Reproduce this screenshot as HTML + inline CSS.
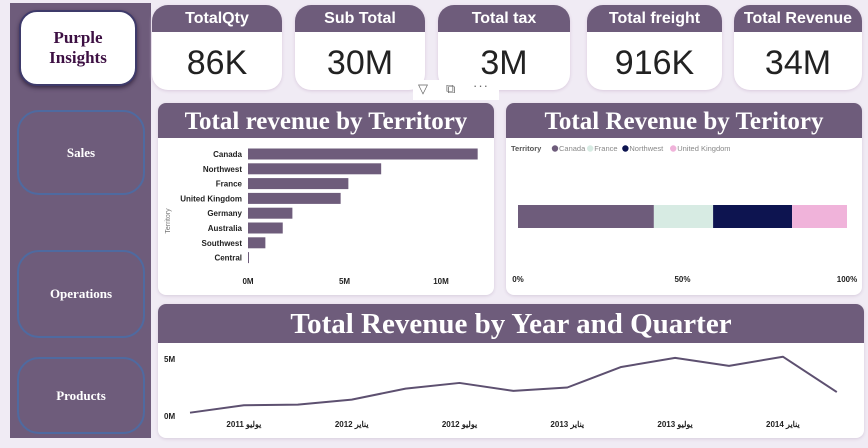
<!DOCTYPE html>
<html><head><meta charset="utf-8"><style>
body{margin:0;width:868px;height:448px;background:#f0ebf4;position:relative;overflow:hidden;font-family:"Liberation Sans",sans-serif}
.abs{position:absolute}
.side{left:10px;top:3px;width:141px;height:435px;background:#6e5c7b}
.nav{position:absolute;left:17px;width:128px;border:2px solid #4f6aa0;border-radius:22px;color:#fff;font-family:"Liberation Serif",serif;font-weight:bold;font-size:13px;display:flex;align-items:center;justify-content:center;box-sizing:border-box;background:#6e5c7b}
.logo{position:absolute;left:19px;top:10px;width:118px;height:76px;background:#fff;border-radius:18px;border:2px solid #3e3a6a;box-sizing:border-box;box-shadow:0 2px 4px #3a2a45;display:flex;align-items:center;justify-content:center;text-align:center;color:#3d1043;font-family:"Liberation Serif",serif;font-weight:bold;font-size:17px;line-height:20px}
.kpi{position:absolute;top:5px;height:85px;background:#fff;border-radius:16px;overflow:hidden;box-shadow:0 1px 3px #d9c9dd}
.kpi .h{height:27px;background:#6e5c7b;color:#fff;font-weight:bold;font-size:16px;text-align:center;line-height:28px}
.kpi .v{text-align:center;font-size:34px;line-height:62px;color:#222}
.panel{position:absolute;background:#fff;border-radius:8px;overflow:hidden;box-shadow:0 1px 3px #d6cbdc}
.ph{background:#6e5c7b;color:#fff;font-family:"Liberation Serif",serif;font-weight:bold;text-align:center}
</style></head><body>
<div class="abs side"></div>
<div class="logo">Purple<br>Insights</div>
<div class="nav" style="top:110px;height:85px">Sales</div>
<div class="nav" style="top:250px;height:88px">Operations</div>
<div class="nav" style="top:357px;height:77px">Products</div>

<div class="kpi" style="left:152px;width:130px"><div class="h">TotalQty</div><div class="v">86K</div></div>
<div class="kpi" style="left:295px;width:130px"><div class="h">Sub Total</div><div class="v">30M</div></div>
<div class="kpi" style="left:438px;width:132px"><div class="h">Total tax</div><div class="v">3M</div></div>
<div class="kpi" style="left:587px;width:135px"><div class="h">Total freight</div><div class="v">916K</div></div>
<div class="kpi" style="left:734px;width:128px"><div class="h">Total Revenue</div><div class="v">34M</div></div>

<div class="abs" style="left:413px;top:80px;width:86px;height:20px;background:#fff;font-size:13px;color:#666">
<span class="abs" style="left:5px;top:1px">▽</span>
<span class="abs" style="left:33px;top:1px">⧉</span>
<span class="abs" style="left:60px;top:-2px;letter-spacing:1px">···</span>
</div>

<div class="panel" style="left:158px;top:103px;width:336px;height:192px">
<div class="ph" style="height:35px;line-height:37px;font-size:25px">Total revenue by Territory</div>
<svg id="bar" class="abs" style="left:0;top:0" width="336" height="192"></svg>
</div>

<div class="panel" style="left:506px;top:103px;width:356px;height:192px">
<div class="ph" style="height:35px;line-height:37px;font-size:25px">Total Revenue by Teritory</div>
<svg id="stk" class="abs" style="left:0;top:0" width="356" height="192"></svg>
</div>

<div class="panel" style="left:158px;top:304px;width:706px;height:134px">
<div class="ph" style="height:39px;line-height:40px;font-size:29px">Total Revenue by Year and Quarter</div>
<svg id="ln" class="abs" style="left:0;top:0" width="706" height="134"></svg>
</div>

<script>
const territories=["Canada","Northwest","France","United Kingdom","Germany","Australia","Southwest","Central"];
const territoryRevenue=[11.9,6.9,5.2,4.8,2.3,1.8,0.9,0.02];
const barTicks=[0,5,10];
const stackCats=["Canada","France","Northwest","United Kingdom"];
const stackShares=[41.3,18,24,16.7];
const stackColors=["#6e5c7b","#d7ebe3","#0d1450","#f0b3da"];
const stackTicks=[0,50,100];
const quarterRevenue=[0.29,0.94,1.0,1.44,2.4,2.9,2.2,2.5,4.3,5.1,4.4,5.2,2.1];
const quarterLabels=["","يوليو 2011","","يناير 2012","","يوليو 2012","","يناير 2013","","يوليو 2013","","يناير 2014",""];
const lineTicks=[0,5];
const NS="http://www.w3.org/2000/svg";
function mk(svg,tag,attrs,txt){const e=document.createElementNS(NS,tag);for(const k in attrs)e.setAttribute(k,attrs[k]);if(txt!==undefined)e.textContent=txt;svg.appendChild(e);return e;}

const bar=document.getElementById('bar');
const bx=v=>90+v*19.3, by=i=>51+i*14.8;
barTicks.forEach(t=>{const e=mk(bar,'text',{x:bx(t),y:181,'font-size':8,'font-weight':'bold','text-anchor':'middle',fill:'#222'},t+'M');

});
const yt=mk(bar,'text',{x:0,y:0,'font-size':7,fill:'#777',transform:'translate(12,118) rotate(-90)','text-anchor':'middle'},'Territory');


territories.forEach((c,i)=>{
const l=mk(bar,'text',{x:84,y:by(i)+3,'font-size':8,'font-weight':'bold','text-anchor':'end',fill:'#222'},c);


const r=mk(bar,'rect',{x:bx(0),y:by(i)-5.5,width:Math.max(1,bx(territoryRevenue[i])-bx(0)),height:11,fill:'#6e5c7b'});

});

const stk=document.getElementById('stk');
const sx=p=>12+p*3.29;
let lx=5;
const lt=mk(stk,'text',{x:lx,y:48,'font-size':7.5,'font-weight':'bold',fill:'#555'},'Territory');


lx+=41;
stackCats.forEach((c,i)=>{
const d=mk(stk,'circle',{cx:lx+3,cy:45.5,r:3.2,fill:stackColors[i]});


const t=mk(stk,'text',{x:lx+7,y:48,'font-size':7.5,fill:'#888'},c);


lx+=10+c.length*4.2;});
let acc=0;
stackCats.forEach((c,i)=>{
const r=mk(stk,'rect',{x:sx(acc),y:102,width:sx(acc+stackShares[i])-sx(acc),height:23,fill:stackColors[i]});


acc+=stackShares[i];});
stackTicks.forEach(t=>{const e=mk(stk,'text',{x:sx(t),y:179,'font-size':8,'font-weight':'bold','text-anchor':'middle',fill:'#222'},t+'%');

});

const ln=document.getElementById('ln');
const lxs=i=>32+i*53.9, lys=v=>112-v*11.4;
lineTicks.forEach(t=>{const e=mk(ln,'text',{x:6,y:lys(t)+3,'font-size':8,'font-weight':'bold',fill:'#222'},t+'M');

});
const pts=quarterRevenue.map((v,i)=>lxs(i)+','+lys(v)).join(' ');
const pl=mk(ln,'polyline',{points:pts,fill:'none',stroke:'#5d5070','stroke-width':2,'stroke-linejoin':'round'});


quarterLabels.forEach((s,i)=>{if(!s)return;
const e=mk(ln,'text',{x:lxs(i),y:123,'font-size':8,'font-weight':'bold','text-anchor':'middle',fill:'#222',direction:'rtl'},s);

});
</script>
</body></html>
